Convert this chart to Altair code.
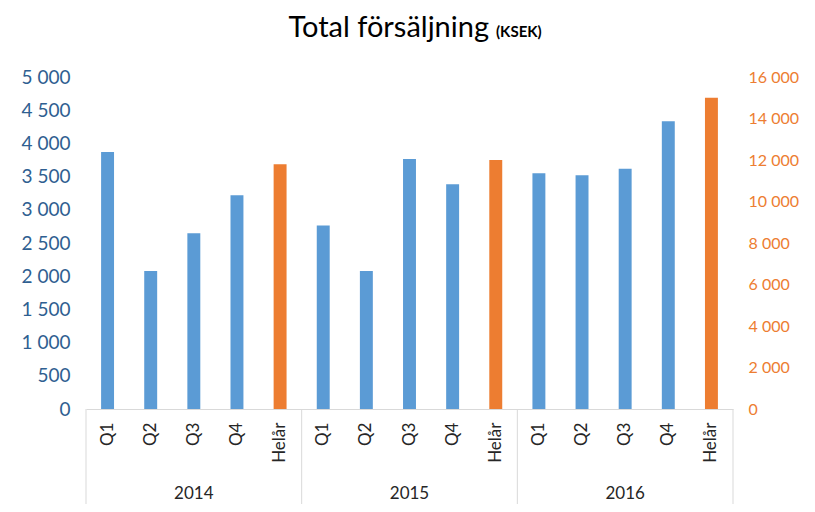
import altair as alt
import pandas as pd

years = ["2014", "2015", "2016"]
periods = ["Q1", "Q2", "Q3", "Q4", "Helår"]
q_2014 = [3870, 2080, 2645, 3220]
q_2015 = [2765, 2080, 3765, 3385]
q_2016 = [3550, 3520, 3620, 4335]
annual = [11800, 12000, 15000]
left_ticks = list(range(0, 5001, 500))
right_ticks = list(range(0, 16001, 2000))

BLUE = "#5B9BD5"
ORANGE = "#ED7D31"
FONT = "Lato"

quarters = [q_2014, q_2015, q_2016]
rows = []
for yi, y in enumerate(years):
    for pi, p in enumerate(periods):
        if p == "Helår":
            rows.append({"key": f"{y}|{p}", "year": y, "period": p, "kind": "A", "value": annual[yi]})
        else:
            rows.append({"key": f"{y}|{p}", "year": y, "period": p, "kind": "Q", "value": quarters[yi][pi]})
df = pd.DataFrame(rows)
keys = list(df["key"])

W, H = 647, 332
STEP = W / len(keys)

xscale = alt.Scale(domain=keys, paddingInner=0.7, paddingOuter=0.35)
xaxis = alt.Axis(
    title=None, labelExpr="split(datum.label, '|')[1]", labelAngle=-90,
    labelFont=FONT, labelFontSize=17, labelColor="#262626", labelPadding=13,
    ticks=False, domainColor="#D9D9D9", domainWidth=1, grid=False,
)


def xenc(**kw):
    return alt.X("key:N", scale=xscale, axis=xaxis, sort=keys, **kw)


base = alt.Chart(df)

blue = base.transform_filter("datum.kind == 'Q'").mark_bar(color=BLUE).encode(
    x=xenc(),
    y=alt.Y("value:Q", scale=alt.Scale(domain=[0, 5000], nice=False),
            axis=alt.Axis(title=None, values=left_ticks, grid=False, domain=False, ticks=False,
                          labelFont=FONT, labelFontSize=19, labelColor="#2F5F91", labelPadding=16,
                          labelExpr="replace(format(datum.value, ','), ',', ' ')", orient="left")),
)

orange = base.transform_filter("datum.kind == 'A'").mark_bar(color=ORANGE).encode(
    x=xenc(),
    y=alt.Y("value:Q", scale=alt.Scale(domain=[0, 16000], nice=False),
            axis=alt.Axis(title=None, values=right_ticks, grid=False, domain=False, ticks=False,
                          labelFont=FONT, labelFontSize=16, labelColor=ORANGE, labelPadding=15,
                          labelExpr="replace(format(datum.value, ','), ',', ' ')", orient="right")),
)

sep_start = base.transform_filter("datum.period == 'Q1'").mark_rule(
    color="#D9D9D9", strokeWidth=1, xOffset=-STEP / 2
).encode(x=xenc(), y=alt.value(H), y2=alt.value(H + 110))
sep_end = base.transform_filter("datum.key == '2016|Helår'").mark_rule(
    color="#D9D9D9", strokeWidth=1, xOffset=STEP / 2
).encode(x=xenc(), y=alt.value(H), y2=alt.value(H + 110))

year_labels = base.transform_filter("datum.period == 'Q3'").mark_text(
    font=FONT, fontSize=17, color="#262626", baseline="middle", align="center"
).encode(x=xenc(), y=alt.value(H + 85), text="year:N")

title_df = pd.DataFrame({"main": ["Total försäljning"], "unit": ["(KSEK)"]})
title_main = alt.Chart(title_df).mark_text(
    font=FONT, fontSize=29, color="#000000", align="right", baseline="alphabetic"
).encode(x=alt.value(403), y=alt.value(-40), text="main:N")
title_unit = alt.Chart(title_df).mark_text(
    font=FONT, fontSize=15, fontWeight="bold", color="#000000", align="left", baseline="alphabetic"
).encode(x=alt.value(410), y=alt.value(-40), text="unit:N")

chart = alt.layer(blue, orange, sep_start, sep_end, year_labels, title_main, title_unit).resolve_scale(
    y="independent"
).properties(
    width=W, height=H,
    padding={"left": 78, "top": 69, "right": 74, "bottom": 95},
    autosize=alt.AutoSizeParams(type="none"),
    background="white",
).configure_view(stroke=None)

chart.save("out.html", embed_options={"renderer": "svg", "actions": False})
